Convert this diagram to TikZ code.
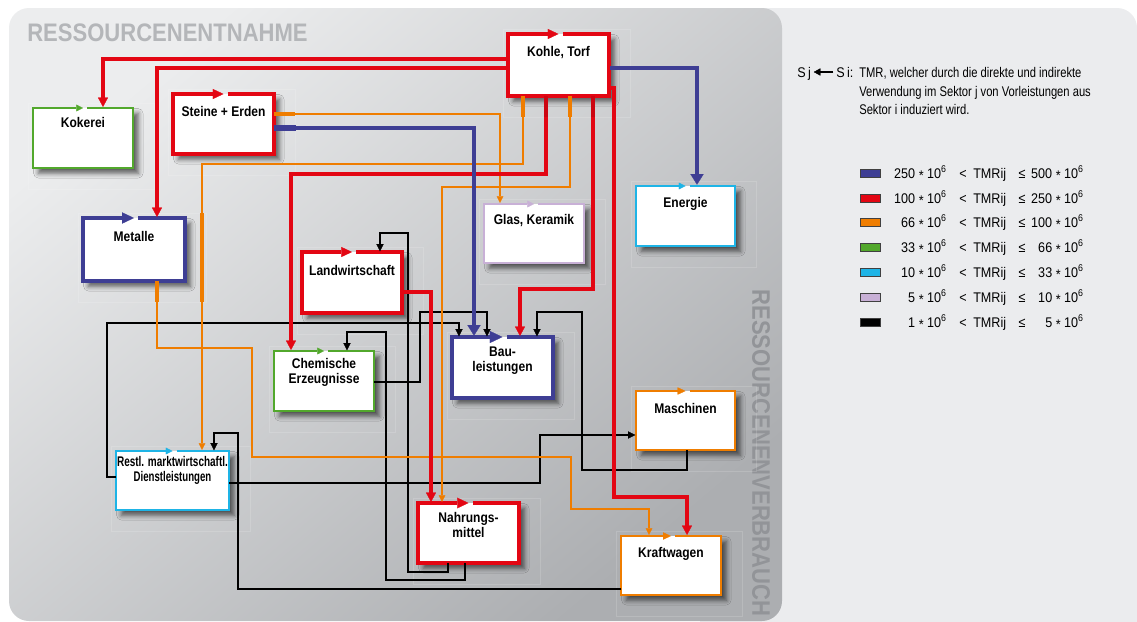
\documentclass[tikz,border=0pt]{standalone}
\usepackage{fontspec}
\usepackage{graphicx}
\setmainfont{Liberation Sans}
\newfontfamily\boxfont{Liberation Sans}[FakeStretch=0.86]
\newfontfamily\legfont{Liberation Sans}[FakeStretch=0.8]
\newfontfamily\rowfont{Liberation Sans}[FakeStretch=0.9]
\newfontfamily\ttlfont{Liberation Sans}[FakeStretch=0.87]
\usetikzlibrary{arrows.meta,calc,fit,shadows.blur}

\definecolor{blueC}{RGB}{62,62,148}
\definecolor{redC}{RGB}{227,6,19}
\definecolor{orangeC}{RGB}{239,125,0}
\definecolor{greenC}{RGB}{82,168,44}
\definecolor{cyanC}{RGB}{30,180,230}
\definecolor{lilacC}{RGB}{200,176,214}
\definecolor{pTop}{RGB}{236,237,238}
\definecolor{pBot}{RGB}{172,174,177}
\definecolor{panelR}{RGB}{235,236,238}
\definecolor{ttlC}{RGB}{180,182,185}
\definecolor{vttlC}{RGB}{146,148,152}

\tikzset{
  boxbase/.style={inner sep=0pt, outer sep=0pt, fill=white,
    blur shadow={shadow xshift=4pt, shadow yshift=-4pt, shadow blur radius=3.5pt, shadow opacity=60}},
  boxlabel/.style={anchor=north, inner sep=0pt, align=center,
    font=\boxfont\bfseries\fontsize{10.5}{11.25}\selectfont},
  shbox/.style={draw=white, draw opacity=0.15, line width=0.5pt},
  bxred/.style={draw=redC, line width=2.6pt, line join=miter, -{Triangle[length=8pt,width=7.5pt,line width=0.2pt]}},
  bxredthick/.style={draw=redC, line width=3pt, line join=miter, -{Triangle[length=8.5pt,width=8pt,line width=0.2pt]}},
  bxblue/.style={draw=blueC, line width=3.2pt, line join=miter, -{Triangle[length=9pt,width=8.5pt,line width=0.2pt]}},
  bxbluethick/.style={draw=blueC, line width=3.7pt, line join=miter, -{Triangle[length=9.5pt,width=9pt,line width=0.2pt]}},
  bxorange/.style={draw=orangeC, line width=2pt, line join=miter, -{Triangle[length=6pt,width=5.5pt,line width=0.2pt]}},
  bxgreen/.style={draw=greenC, line width=1.5pt, line join=miter, -{Triangle[length=5pt,width=5pt,line width=0.2pt]}},
  bxcyan/.style={draw=cyanC, line width=1.3pt, line join=miter, -{Triangle[length=5pt,width=5pt,line width=0.2pt]}},
  bxlilac/.style={draw=lilacC, line width=1.1pt, line join=miter, -{Triangle[length=5pt,width=5pt,line width=0.2pt]}},
  eblack/.style={draw=black, line width=1pt, -{Triangle[length=5.5pt,width=5.5pt,line width=0.2pt]}, shorten >=0.5pt},
  eorange/.style={draw=orangeC, line width=1.5pt, -{Triangle[length=5pt,width=5pt,line width=0.2pt]}, shorten >=0.8pt, shorten <=1pt},
  ered/.style={draw=redC, line width=2.5pt, -{Triangle[length=7pt,width=7.5pt,line width=0.2pt]}, shorten >=0.8pt, shorten <=1pt},
  eblue/.style={draw=blueC, line width=3.3pt, -{Triangle[length=8pt,width=10pt,line width=0.2pt]}, shorten >=1pt, shorten <=1pt},
  swatch/.style={draw=black!75, line width=0.5pt, minimum width=15pt, minimum height=6pt, inner sep=0pt},
  rowtxt/.style={inner sep=0pt, font=\rowfont\fontsize{10.5}{12}\selectfont},
  legtxt/.style={inner sep=0pt, anchor=base west, font=\legfont\fontsize{10.5}{12}\selectfont},
}

\newcommand\sectorbox[8]{%
  \draw[shbox] ({#2-5},{#3-5}) rectangle ({#4+21},{#5+21});
  \node[boxbase, fit={(#2,#3) (#4,#5)}] (#1) {};
  \draw[#6] ($(#1.north)+(4,0)$) -- (#1.north east) -- (#1.south east) -- (#1.south west) -- (#1.north west) -- (#1.north);
  \node[boxlabel] (#1-t) at ($(#1.north)+(0,#7)$) {#8};
}
\newcommand\tmv[1]{#1 \raisebox{-0.35ex}{*} 10\textsuperscript{6}}
\newcommand\legrow[5]{%
  \node[swatch, fill=#3] (#1s) at (870,#2) {};
  \node[rowtxt, anchor=base east] (#1a) at (947,{#2+5}) {\tmv{#4}};
  \node[rowtxt, anchor=base] (#1b) at (963,{#2+5}) {<};
  \node[rowtxt, anchor=base west] (#1c) at (973,{#2+5}) {TMRij};
  \node[rowtxt, anchor=base] (#1d) at (1022,{#2+5}) {≤};
  \node[rowtxt, anchor=base east] (#1e) at (1084,{#2+5}) {\tmv{#5}};
}

\begin{document}
\begin{tikzpicture}[x=0.75pt,y=-0.75pt]
\useasboundingbox (0,0) rectangle (1137,621);
\fill[white] (0,0) rectangle (1137,621);
% panels
\fill[panelR, rounded corners=15pt] (700,8) rectangle (1137,650);
\shade[rounded corners=15pt, top color=pTop, bottom color=pBot, shading angle=40] (9,8) rectangle (782,621);

% titles
\node[anchor=base west, inner sep=0pt, text=ttlC, font=\ttlfont\bfseries\fontsize{19}{20}\selectfont] (ttl) at (27,41) {RESSOURCENENTNAHME};
\node[rotate=-90, inner sep=0pt, text=vttlC, font=\ttlfont\bfseries\fontsize{19}{20}\selectfont] (vttl) at (761,453) {RESSOURCENENVERBRAUCH};

% boxes
\sectorbox{kohle}{508}{34}{609}{96}{bxred}{12}{Kohle, Torf}
\sectorbox{kokerei}{33}{108}{133}{168}{bxgreen}{9}{Kokerei}
\sectorbox{steine}{173}{94}{274}{154}{bxred}{12}{Steine + Erden}
\sectorbox{metalle}{83}{218}{185}{281}{bxblue}{13}{Metalle}
\sectorbox{landw}{302}{252}{402}{313}{bxred}{13}{Landwirtschaft}
\sectorbox{chem}{274}{351}{374}{411}{bxgreen}{7}{Chemische\\Erzeugnisse}
\sectorbox{glas}{484}{204}{584}{263}{bxlilac}{10}{Glas, Keramik}
\sectorbox{energie}{636}{186}{735}{246}{bxcyan}{11}{Energie}
\sectorbox{bau}{452}{337}{553}{398}{bxbluethick}{10}{Bau-\\leistungen}
\sectorbox{masch}{636}{391}{735}{450}{bxorange}{12}{Maschinen}
\sectorbox{restl}{116}{451}{229}{510}{bxcyan}{5}{\scalebox{0.83}[1]{Restl. marktwirtschaftl.}\\\scalebox{0.8}[1]{Dienstleistungen}}
\sectorbox{nahr}{418}{503}{519}{563}{bxredthick}{9}{Nahrungs-\\mittel}
\sectorbox{kraft}{621}{536}{721}{595}{bxorange}{11}{Kraftwagen}

% black connectors
\draw[eblack] (nahr.south -| 448,0) |- (408,572) |- (380,233) -- (landw.north -| 380,0);
\draw[eblack] (nahr.south -| 465,0) |- (386,580) |- (347,332) -- (chem.north -| 347,0);
\draw[eblack] (kraft.west |- 0,589) -| (238,433) -| (restl.north -| 214,0);
\draw[eblack] (restl.east |- 0,483) -| (540,435) -- (masch.west |- 0,435);
\draw[eblack] (restl.west |- 0,477) -| (107,323) -| (bau.north -| 459,0);
\draw[eblack] (chem.east |- 0,382) -| (420,312) -| (bau.north -| 487,0);
\draw[eblack] (masch.south -| 687,0) |- (582,470) |- (537,312) -- (bau.north -| 537,0);
\draw[black, line width=1.8pt] (kraft.west |- 0,589) -- ++(-4,0);

% orange connectors
\draw[eorange] (kohle.south -| 523,0) |- (202,164) -- (restl.north -| 202,0);
\draw[eorange] (kohle.south -| 570,0) |- (442,187) -- (nahr.north -| 442,0);
\draw[eorange] (steine.east |- 0,114) -| (glas.north -| 500,0);
\draw[eorange, line width=1.7pt] (metalle.south -| 157,0) |- (252,348) |- (571,457) |- (649,509) -- (kraft.north -| 649,0);
\draw[orangeC, line width=2.4pt] (kohle.south -| 523,0) -- ++(0,21);
\draw[orangeC, line width=2.4pt] (kohle.south -| 570,0) -- ++(0,21);
\draw[orangeC, line width=2.4pt] (steine.east |- 0,114) -- ++(21,0);
\draw[orangeC, line width=2.6pt] (metalle.south -| 157,0) -- ++(0,21);
\draw[orangeC, line width=2.4pt] (202,213) -- (202,302);

% red connectors
\draw[ered] (kohle.west |- 0,59) -| (kokerei.north -| 103,0);
\draw[ered] (kohle.west |- 0,68) -| (metalle.north -| 157,0);
\draw[ered] (kohle.south -| 546,0) |- (291,174) -- (chem.north -| 291,0);
\draw[ered] (kohle.south -| 593,0) |- (520,289) -- (bau.north -| 520,0);
\draw[ered] (kohle.east |- 0,88) -- (614,88) |- (687,497) -- (kraft.north -| 687,0);
\draw[ered] (landw.east |- 0,292) -| (nahr.north -| 431,0);
\draw[redC!90!black, line width=3.5pt] (kohle.south -| 546,0) -- ++(0,21);
\draw[redC!90!black, line width=3.5pt] (kohle.south -| 593,0) -- ++(0,21);
\draw[redC, line width=3.3pt] (kohle.west |- 0,59) -- ++(-6,0);
\draw[redC, line width=3.3pt] (kohle.west |- 0,68) -- ++(-6,0);
\draw[redC, line width=3.5pt] (593,200) -- (593,283);

% blue connectors
\draw[eblue] (kohle.east |- 0,68) -| (energie.north -| 697,0);
\draw[eblue] (steine.east |- 0,128) -| (bau.north -| 474,0);
\draw[blueC, line width=4.2pt] (steine.east |- 0,128) -- ++(22,0);

% legend
\node[rowtxt, anchor=base west] (sj) at (797,77) {S\,j};
\node[rowtxt, anchor=base west] (si) at (836,77) {S\,i:};
\draw[line width=1.1pt, -{Triangle[length=5pt,width=5.5pt,line width=0.2pt]}, shorten <=2pt, shorten >=2pt] (si.west |- 0,72) -- (sj.east |- 0,72);
\node[legtxt] (d1) at (859,77) {TMR, welcher durch die direkte und indirekte};
\node[legtxt] (d2) at (859,96) {Verwendung im Sektor j von Vorleistungen aus};
\node[legtxt] (d3) at (859,114) {Sektor i induziert wird.};

\legrow{la}{173}{blueC}{250}{500}
\legrow{lb}{198}{redC}{100}{250}
\legrow{lc}{222}{orangeC}{66}{100}
\legrow{ld}{247}{greenC}{33}{66}
\legrow{le}{272}{cyanC}{10}{33}
\legrow{lf}{297}{lilacC}{5}{10}
\legrow{lg}{322}{black}{1}{5}
\end{tikzpicture}
\end{document}
